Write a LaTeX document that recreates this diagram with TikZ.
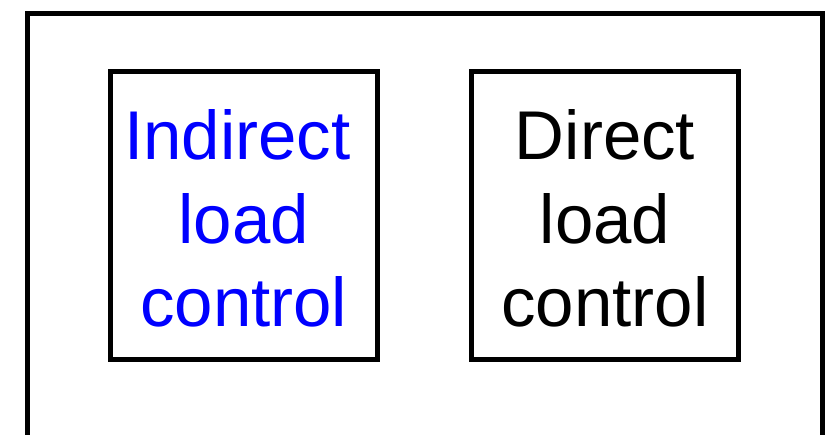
\documentclass[tikz,border=0pt]{standalone}
\usepackage{fontspec}
\setmainfont{Liberation Sans}
\definecolor{pureblue}{RGB}{0,0,255}
\begin{document}
\begin{tikzpicture}[x=1pt,y=-1pt,
  frame/.style={draw=black,line width=5pt},
  boxstyle/.style={draw=black,line width=5pt,minimum width=267pt,minimum height=288pt,inner sep=0pt},
  label/.style={align=center,font=\fontsize{69}{83.5}\selectfont,inner sep=0pt}]
\useasboundingbox (0,0) rectangle (836,435);
\clip (0,0) rectangle (836,435);
\draw[frame] (27.5,13.5) rectangle (822.5,460);
\node[boxstyle] (ind) at (243.75,215.5) {};
\node[boxstyle] (dir) at (605,215.5) {};
\node[label,text=pureblue] (indt) at ([yshift=-3pt]ind.center) {Indirect\hspace*{13pt}\\load\\control};
\node[label,text=black] (dirt) at ([yshift=-3pt]dir.center) {Direct\\load\\control};
\end{tikzpicture}
\end{document}
